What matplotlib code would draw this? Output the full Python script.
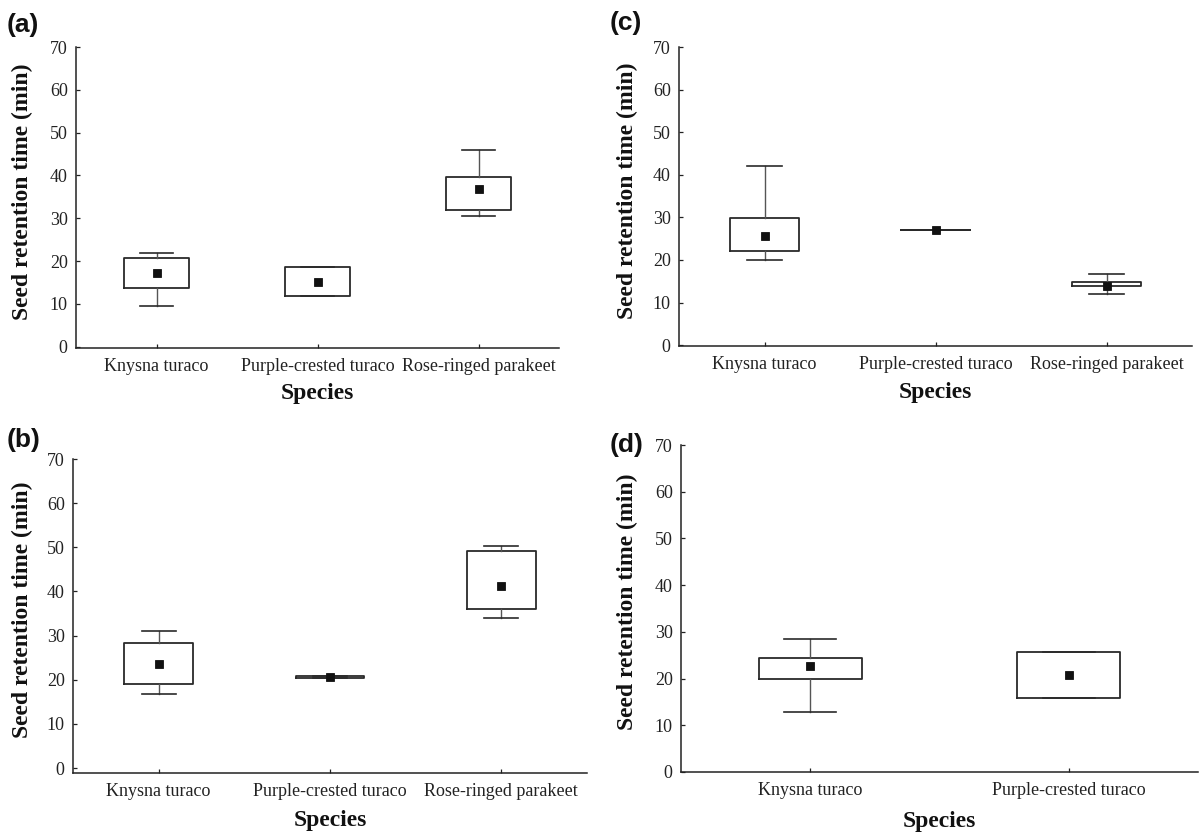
import matplotlib
matplotlib.use("Agg")
import matplotlib.pyplot as plt

# ---------------- data ----------------
species3 = ["Knysna turaco", "Purple-crested turaco", "Rose-ringed parakeet"]
species2 = ["Knysna turaco", "Purple-crested turaco"]
yticks = [0, 10, 20, 30, 40, 50, 60, 70]

# (a)
a_whislo = [9.6, 11.9, 30.5]
a_q1 = [13.7, 11.9, 32.0]
a_q3 = [20.8, 18.6, 39.6]
a_whishi = [21.9, 18.6, 46.0]
a_mean = [17.1, 15.2, 36.9]

# (b)
b_whislo = [16.9, 20.5, 34.0]
b_q1 = [19.0, 20.5, 36.1]
b_q3 = [28.4, 20.9, 49.1]
b_whishi = [31.1, 20.9, 50.3]
b_mean = [23.6, 20.7, 41.3]

# (c)
c_whislo = [20.0, 27.0, 11.9]
c_q1 = [22.2, 27.0, 13.9]
c_q3 = [29.8, 27.0, 14.8]
c_whishi = [42.1, 27.0, 16.8]
c_mean = [25.6, 27.0, 14.0]

# (d)
d_whislo = [12.9, 15.9]
d_q1 = [20.0, 15.9]
d_q3 = [24.4, 25.6]
d_whishi = [28.4, 25.6]
d_mean = [22.6, 20.7]

# ---------------- styling ----------------
SERIF = ["Liberation Serif", "DejaVu Serif"]
SANS = ["Liberation Sans", "DejaVu Sans"]
plt.rcParams["font.family"] = SERIF

W, H = 1204, 835
fig = plt.figure(figsize=(W / 100, H / 100), dpi=100)


def rect(left, right, top, bottom):
    return [left / W, (H - bottom) / H, (right - left) / W, (bottom - top) / H]


panels = [
    # label, rect(px), ylim bottom, categories, data, label pos (px), xlabel gap, ylabel gap
    ("(a)", rect(76, 559, 47, 348), -0.3, species3,
     (a_whislo, a_q1, a_q3, a_whishi, a_mean), (23, 25), 35, 43),
    ("(b)", rect(73, 587, 459, 773), -1.1, species3,
     (b_whislo, b_q1, b_q3, b_whishi, b_mean), (24, 440), 37, 40),
    ("(c)", rect(679, 1192, 47, 346), -0.2, species3,
     (c_whislo, c_q1, c_q3, c_whishi, c_mean), (626, 23), 36, 41),
    ("(d)", rect(681, 1198, 445, 772), 0.0, species2,
     (d_whislo, d_q1, d_q3, d_whishi, d_mean), (627, 445), 39, 43),
]

for lab, r, ylo, cats, (wlo, q1, q3, whi, mn), (lx, ly), xgap, ygap in panels:
    ax = fig.add_axes(r)
    stats = []
    for i, name in enumerate(cats):
        stats.append(dict(label=name, whislo=wlo[i], q1=q1[i], med=mn[i],
                          q3=q3[i], whishi=whi[i], mean=mn[i], fliers=[]))
    n = len(cats)
    ax.bxp(stats, positions=list(range(n)), widths=0.4, capwidths=0.2,
           showmeans=True, showfliers=False,
           boxprops=dict(color="#2a2a2a", linewidth=1.3),
           whiskerprops=dict(color="#555555", linewidth=1.0),
           capprops=dict(color="#2a2a2a", linewidth=1.2),
           medianprops=dict(linewidth=0),
           meanprops=dict(marker="s", markersize=5.4, markerfacecolor="#111111",
                          markeredgecolor="#111111", markeredgewidth=0.6))
    ax.set_xlim(-0.5, n - 0.5)
    ax.set_ylim(ylo, 70)
    ax.set_yticks(yticks)
    ax.set_yticklabels([str(v) for v in yticks])
    ax.set_xticks(range(n))
    ax.set_xticklabels(cats)
    for s in ("top", "right"):
        ax.spines[s].set_visible(False)
    for s in ("left", "bottom"):
        ax.spines[s].set_color("#222222")
        ax.spines[s].set_linewidth(1.1)
    ax.spines["left"].set_bounds(ylo, 70)
    ax.tick_params(axis="both", direction="in", length=3, width=0.9,
                   colors="#222222", labelsize=13, pad=7)
    ax.tick_params(axis="y", pad=6)
    for t in ax.get_xticklabels() + ax.get_yticklabels():
        t.set_color("#222222")

    ax.set_xlabel("Species", fontsize=17, fontweight="bold", color="#111111")
    ax.set_ylabel("Seed retention time (min)", fontsize=17, fontweight="bold",
                  color="#111111")
    axw = r[2] * W
    axh = r[3] * H
    ax.xaxis.set_label_coords(0.5, -xgap / axh)
    ax.yaxis.set_label_coords(-ygap / axw, 0.52)

    fig.text(lx / W, 1 - ly / H, lab, family=SANS, fontweight="bold",
             fontsize=19, ha="center", va="center", color="#111111")

fig.savefig("out.png", dpi=100)
